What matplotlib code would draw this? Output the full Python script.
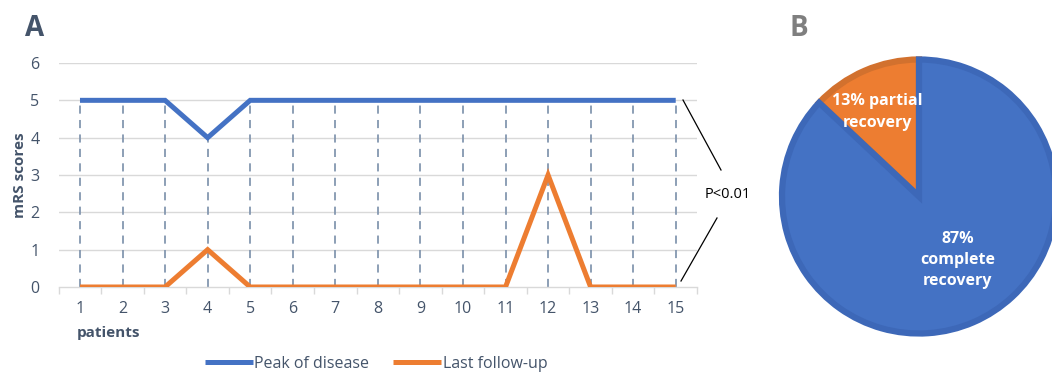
"""Two-panel figure: mRS scores per patient (A) and recovery outcome share (B)."""

import matplotlib

matplotlib.use("Agg")
import matplotlib.pyplot as plt

patients = list(range(1, 16))
peak_of_disease = [5, 5, 5, 4, 5, 5, 5, 5, 5, 5, 5, 5, 5, 5, 5]
last_follow_up = [0, 0, 0, 1, 0, 0, 0, 0, 0, 0, 0, 3, 0, 0, 0]
y_ticks = [0, 1, 2, 3, 4, 5, 6]

outcome_shares = [87, 13]
outcome_labels = ["87%\ncomplete\nrecovery", "13% partial\nrecovery"]

BLUE = "#4472C4"
ORANGE = "#ED7D31"
TEXT = "#44546A"

plt.rcParams["font.family"] = ["Open Sans", "DejaVu Sans"]

fig = plt.figure(figsize=(10.52, 3.74), dpi=100)
W, H = 1052, 374


def box(x0, y0, x1, y1):
    """Pixel box (top-left origin) -> figure fraction rect."""
    return [x0 / W, 1 - y1 / H, (x1 - x0) / W, (y1 - y0) / H]


# ---- panel A: line chart ----
ax = fig.add_axes(box(58.7, 63, 697, 287))
ax.set_xlim(0.5, 15.5)
ax.set_ylim(0, 6)

for y in y_ticks[1:]:
    ax.axhline(y, color="#D9D9D9", lw=1.0, zorder=0)

# drop lines from the upper series down to the axis
ax.vlines(patients, 0, peak_of_disease, colors="#8497B0", lw=1.3,
          linestyles=(0, (4.5, 3.5)), zorder=1)

ax.plot(patients, peak_of_disease, color=BLUE, lw=3.6,
        solid_joinstyle="miter", solid_capstyle="butt",
        label="Peak of disease", zorder=3)
ax.plot(patients, last_follow_up, color=ORANGE, lw=3.6,
        solid_joinstyle="miter", solid_capstyle="butt",
        label="Last follow-up", zorder=3)

for side in ("top", "right", "left"):
    ax.spines[side].set_visible(False)
ax.spines["bottom"].set_color("#D9D9D9")
ax.spines["bottom"].set_linewidth(1.0)

ax.set_yticks(y_ticks)
ax.set_xticks(patients)
ax.set_xticks([p + 0.5 for p in [0] + patients], minor=True)
ax.tick_params(axis="y", length=0, labelsize=11.5, labelcolor=TEXT, pad=14)
ax.tick_params(axis="x", which="major", length=0, labelsize=11.5,
               labelcolor=TEXT, pad=10)
ax.tick_params(axis="x", which="minor", length=5, color="#D9D9D9", width=1.0)

ax.set_ylabel("mRS scores", fontsize=11, fontweight="bold", color=TEXT)
ax.yaxis.set_label_coords(-0.05, 0.5)
fig.text(77 / W, 1 - 333 / H, "patients", fontsize=11, fontweight="bold",
         color=TEXT, ha="left", va="center")

leg = fig.legend(loc="center", bbox_to_anchor=(376 / W, 1 - 364 / H), ncol=2,
                 frameon=False, fontsize=11.5, handlelength=3.0,
                 handletextpad=0.1, columnspacing=1.5)
for t in leg.get_texts():
    t.set_color(TEXT)

# significance bracket
fig.add_artist(plt.Line2D([683 / W, 721 / W], [1 - 100 / H, 1 - 170 / H],
                          color="black", lw=0.9))
fig.add_artist(plt.Line2D([717 / W, 681 / W], [1 - 218 / H, 1 - 281 / H],
                          color="black", lw=0.9))
fig.text(728 / W, 1 - 195 / H, "P<0.01", fontsize=10.5, color="black",
         ha="center", va="center")

fig.text(35 / W, 1 - 29 / H, "A", fontsize=20, fontweight="bold", color=TEXT,
         ha="center", va="center")

# ---- panel B: pie chart ----
cx, cy, rx, ry = 919, 196.5, 137, 141.5
pax = fig.add_axes(box(cx - rx, cy - ry, cx + rx, cy + ry))
pax.set_aspect("auto")
wedges, _ = pax.pie(outcome_shares, colors=[BLUE, ORANGE], startangle=90,
                    counterclock=False, radius=1.0,
                    wedgeprops=dict(linewidth=4.5, joinstyle="miter"))
wedges[0].set_edgecolor("#3D68B8")
wedges[1].set_edgecolor("#D2712E")
wedges[1].set_zorder(1)
wedges[0].set_zorder(2)
for w in wedges:
    w.set_clip_on(False)
pax.set_xlim(-1, 1)
pax.set_ylim(-1, 1)
pax.axis("off")

fig.text(877 / W, 1 - 112 / H, outcome_labels[1], fontsize=11.5,
         fontweight="bold", color="white", ha="center", va="center",
         linespacing=1.45)
fig.text(958 / W, 1 - 260 / H, outcome_labels[0], fontsize=11.5,
         fontweight="bold", color="white", ha="center", va="center",
         linespacing=1.45)

fig.text(799 / W, 1 - 28 / H, "B", fontsize=20, fontweight="bold",
         color="#7F7F7F", ha="center", va="center")

fig.savefig("out.png", dpi=100)
